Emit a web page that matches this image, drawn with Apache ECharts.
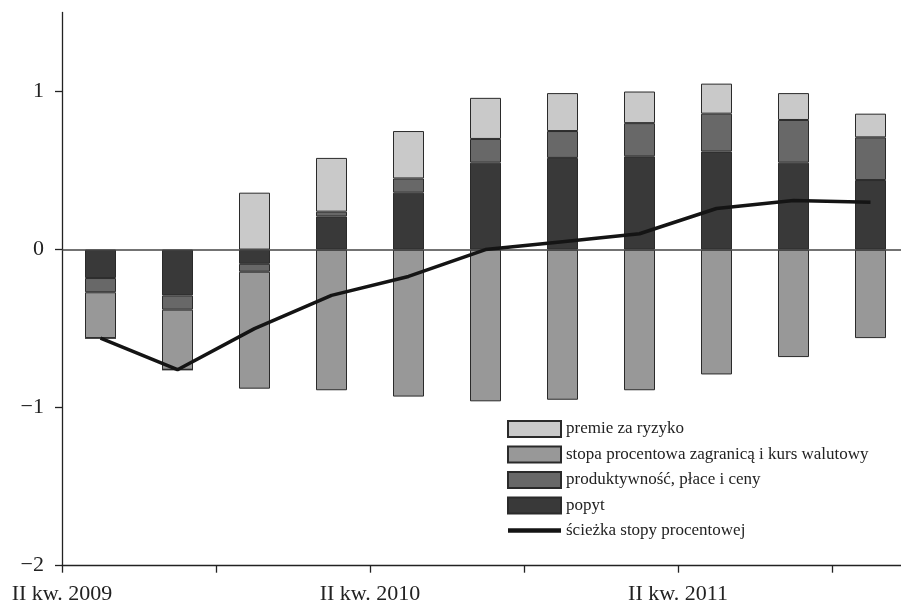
<!DOCTYPE html>
<html>
<head>
<meta charset="utf-8">
<script src="https://cdn.jsdelivr.net/npm/echarts@6.0.0/dist/echarts.min.js"></script>
<style>
html,body{margin:0;padding:0;background:#fff;}
#c{width:901px;height:604px;}
</style>
</head>
<body>
<div id="c"></div>
<script>
const categories = ['II kw. 2009','III kw. 2009','IV kw. 2009','I kw. 2010','II kw. 2010','III kw. 2010','IV kw. 2010','I kw. 2011','II kw. 2011','III kw. 2011','IV kw. 2011'];
const popyt    = [-0.18,-0.29,-0.09, 0.21, 0.36, 0.55, 0.58, 0.59, 0.62, 0.55, 0.44];
const produkt  = [-0.09,-0.09,-0.05, 0.03, 0.09, 0.15, 0.17, 0.21, 0.24, 0.27, 0.27];
const stopa    = [-0.29,-0.38,-0.74,-0.89,-0.93,-0.96,-0.95,-0.89,-0.79,-0.68,-0.56];
const premie   = [ 0.00, 0.00, 0.36, 0.34, 0.30, 0.26, 0.24, 0.20, 0.19, 0.17, 0.15];
const sciezka  = [-0.56,-0.76,-0.50,-0.29,-0.17, 0.00, 0.05, 0.10, 0.26, 0.31, 0.30];
const yTicks = [-2,-1,0,1];

const names = {
  premie: 'premie za ryzyko',
  stopa: 'stopa procentowa zagranicą i kurs walutowy',
  produkt: 'produktywność, płace i ceny',
  popyt: 'popyt',
  sciezka: 'ścieżka stopy procentowej'
};

const font = 'Liberation Serif';
const chart = echarts.init(document.getElementById('c'), null, {renderer:'canvas'});

function bar(name, data, color){
  return {
    name, type:'bar', stack:'total', data: data, barWidth: 31,
    itemStyle:{color, borderColor:'#2a2a2a', borderWidth:1},
    emphasis:{disabled:true}
  };
}

chart.setOption({
  animation:false,
  backgroundColor:'#fff',
  textStyle:{fontFamily:font},
  grid:{left:62, width:847, top:12.5, bottom:38.3, containLabel:false, outerBoundsMode:'none'},
  xAxis:{
    type:'category', data:categories, boundaryGap:true,
    axisLine:{show:true, onZero:false, lineStyle:{color:'#222', width:1.3}},
    axisTick:{show:true, length:7, interval:1, lineStyle:{color:'#222', width:1.3}},
    splitLine:{show:false},
    axisLabel:{
      interval:3, margin:18, color:'#222', fontFamily:font, fontSize:22,
      padding:[0,77,0,0]
    }
  },
  yAxis:{
    type:'value', min:-2, max:1.5,
    axisLine:{show:true, onZero:false, lineStyle:{color:'#222', width:1.3}},
    axisTick:{show:true, length:7, customValues:yTicks, lineStyle:{color:'#222', width:1.3}},
    splitLine:{show:false},
    axisLabel:{
      margin:18, color:'#222', fontFamily:font, fontSize:22, customValues:yTicks,
      formatter:function(v){ return v < 0 ? '\u2212' + Math.abs(v) : String(v); }
    }
  },
  legend:{
    orient:'vertical', left:502, top:415,
    itemWidth:53, itemHeight:16, itemGap:7.5,
    textStyle:{fontFamily:font, fontSize:17, color:'#222'},
    data:[
      {name:names.premie, icon:'rect'},
      {name:names.stopa, icon:'rect'},
      {name:names.produkt, icon:'rect'},
      {name:names.popyt, icon:'rect'},
      {name:names.sciezka, icon:'path://M0,0L53,0L53,4.5L0,4.5Z'}
    ],
    selectedMode:false
  },
  series:[
    bar(names.popyt, popyt, '#393939'),
    bar(names.produkt, produkt, '#686868'),
    bar(names.stopa, stopa, '#989898'),
    bar(names.premie, premie, '#c9c9c9'),
    {
      name:names.sciezka, type:'line', data:sciezka,
      symbol:'none', showSymbol:false, z:5,
      lineStyle:{color:'#141414', width:3.5},
      itemStyle:{color:'#141414'},
      emphasis:{disabled:true},
      markLine:{
        silent:true, symbol:['none','none'], z:4,
        label:{show:false},
        lineStyle:{color:'#444', width:1.5, type:'solid'},
        data:[{yAxis:0}]
      }
    }
  ]
});
</script>
</body>
</html>
